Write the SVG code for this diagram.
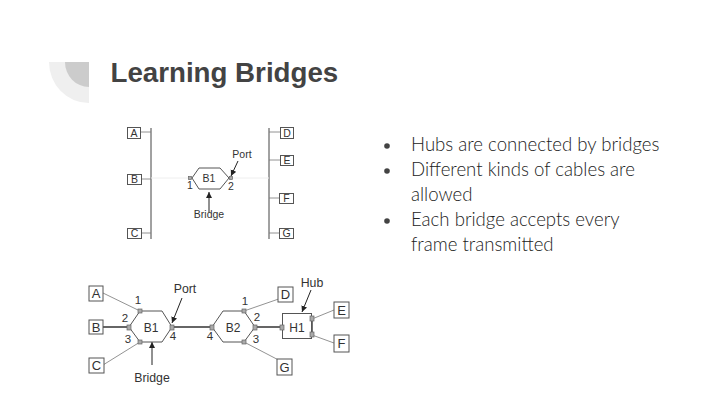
<svg xmlns="http://www.w3.org/2000/svg" width="720" height="405" viewBox="0 0 720 405">
<style>
.box{fill:#fff;stroke:#555;stroke-width:1}
.l{font-family:"Liberation Sans",Arial,sans-serif;font-size:10.500px;fill:#333;text-anchor:middle}
.m{font-family:"Liberation Sans",Arial,sans-serif;font-size:13px;fill:#333;text-anchor:middle}
.n{font-family:"Liberation Sans",Arial,sans-serif;font-size:11.500px;fill:#333;text-anchor:middle}
.c{font-family:"Liberation Sans",Arial,sans-serif;font-size:12.300px;fill:#333;text-anchor:middle}
.h{font-family:"Liberation Sans",Arial,sans-serif;font-size:12px;fill:#333;text-anchor:middle}
.b{font-family:"Lato","Noto Sans",sans-serif;font-size:18.600px;font-weight:300;fill:#222}
.w{fill:none;stroke:#444;stroke-width:1}
.t{fill:none;stroke:#777;stroke-width:.8}
.k{fill:none;stroke:#666;stroke-width:2}
.hex{fill:#fff;stroke:#555;stroke-width:1}
.p{fill:#aaa;stroke:#666;stroke-width:.7}
.a{fill:none;stroke:#222;stroke-width:1;marker-end:url(#ah)}
</style>
<defs><marker id="ah" markerWidth="7" markerHeight="7" refX="6" refY="3" orient="auto" markerUnits="userSpaceOnUse"><path d="M0,0L6,3L0,6z" fill="#222"/></marker></defs>
<rect width="720" height="405" fill="#fff"/>
<g id="decor">
<path d="M49,62H89V103A40,41 0 0 1 49,62z" fill="#efefef"/>
<path d="M65,62H89V87A24,25 0 0 1 65,62z" fill="#ccc"/>
</g>
<text id="title" x="110.500" y="82" font-family="Liberation Sans,Arial,sans-serif" font-weight="700" font-size="27.700" fill="#434343">Learning Bridges</text>
<g id="bullets">
<circle cx="387" cy="146" r="2.800" fill="#434343"/><circle cx="387" cy="171" r="2.800" fill="#434343"/><circle cx="387" cy="221" r="2.800" fill="#434343"/>
<text class="b" x="411" y="151">Hubs are connected by bridges</text>
<text class="b" x="411" y="176">Different kinds of cables are</text>
<text class="b" x="411" y="201">allowed</text>
<text class="b" x="411" y="226">Each bridge accepts every</text>
<text class="b" x="411" y="251">frame transmitted</text>
</g>
<g id="connectors">
<path class="w" d="M151,128V239M269,128V239"/>
<path class="t" d="M141,132H151M141,179H151M141,233H151M269,132H280M269,160H280M269,198H280M269,233H280"/>
<path d="M151,178H190M232,178H269" stroke="#eee" stroke-width="1" fill="none"/>
<path class="a" d="M238,161L231,176"/>
<path class="a" d="M209,212V192"/>
<path class="t" d="M103,293L140,311M103,365L140,342M293,294L244,311M292,367L244,342M312,319L334,310M312,335L334,343"/>
<path class="k" d="M103,327H129M172,327H212M255,327H282"/>
<path d="M312,319V335" stroke="#444" stroke-width="1.500" fill="none"/>
<path class="a" d="M182,298L172,323"/>
<path class="a" d="M152,365V342"/>
<path class="a" d="M311,290L302,312"/>
</g>
<g id="A"><rect class="box" x="127.500" y="127.500" width="13" height="11"/><text class="l" x="134" y="136.500">A</text></g>
<g id="B"><rect class="box" x="127.500" y="174.500" width="14" height="10"/><text class="l" x="134.500" y="183">B</text></g>
<g id="C"><rect class="box" x="127.500" y="228.500" width="14" height="10"/><text class="l" x="134.500" y="237">C</text></g>
<g id="D"><rect class="box" x="280.500" y="127.500" width="13" height="11"/><text class="l" x="287" y="136.500">D</text></g>
<g id="E"><rect class="box" x="280.500" y="155.500" width="13" height="10"/><text class="l" x="287" y="164">E</text></g>
<g id="F"><rect class="box" x="279.500" y="193.500" width="14" height="10"/><text class="l" x="286.500" y="202">F</text></g>
<g id="G"><rect class="box" x="279.500" y="228.500" width="14" height="10"/><text class="l" x="286.500" y="237">G</text></g>
<g id="B1top"><path class="hex" d="M192,178L199,168H220L229,178L220,189H199z"/><text class="l" x="209" y="182">B1</text>
<rect class="p" x="188.500" y="176.500" width="3" height="3"/><rect class="p" x="229.500" y="176.500" width="3" height="3"/>
<text class="l" x="190" y="189">1</text><text class="l" x="231" y="190">2</text></g>
<text class="l" x="242" y="158">Port</text>
<text class="l" x="209" y="218">Bridge</text>
<g id="A2"><rect class="box" x="89" y="286" width="14" height="15"/><text class="m" x="96" y="298">A</text></g>
<g id="B2n"><rect class="box" x="89" y="320" width="14" height="14"/><text class="m" x="96" y="332">B</text></g>
<g id="C2"><rect class="box" x="89" y="358" width="15" height="15"/><text class="m" x="96.500" y="370">C</text></g>
<g id="D2"><rect class="box" x="278" y="287" width="15" height="15"/><text class="m" x="285.500" y="299">D</text></g>
<g id="E2"><rect class="box" x="334" y="302" width="15" height="16"/><text class="m" x="341.500" y="315">E</text></g>
<g id="F2"><rect class="box" x="334" y="335" width="15" height="17"/><text class="m" x="341.500" y="348">F</text></g>
<g id="G2"><rect class="box" x="277" y="359" width="15" height="16"/><text class="m" x="284.500" y="372">G</text></g>
<g id="B1"><path class="hex" d="M129,327L140,311H162L172,327L162,342H140z"/><text class="h" x="151" y="331.500">B1</text>
<rect class="p" x="127" y="325" width="4" height="5"/><rect class="p" x="138" y="309" width="4" height="4"/><rect class="p" x="138" y="340" width="4" height="4"/><rect class="p" x="170" y="325" width="4" height="5"/>
<text class="n" x="138" y="304">1</text><text class="n" x="125" y="322">2</text><text class="n" x="128" y="343">3</text><text class="n" x="173" y="340">4</text></g>
<g id="B2"><path class="hex" d="M212,327L223,311H244L255,327L244,342H223z"/><text class="h" x="233" y="331.500">B2</text>
<rect class="p" x="210" y="325" width="4" height="5"/><rect class="p" x="242" y="309" width="4" height="4"/><rect class="p" x="242" y="340" width="4" height="4"/><rect class="p" x="253" y="325" width="4" height="5"/>
<text class="n" x="245" y="305">1</text><text class="n" x="257" y="321">2</text><text class="n" x="256" y="343">3</text><text class="n" x="210" y="340">4</text></g>
<g id="H1"><rect class="box" x="282.500" y="313.500" width="29" height="25"/><text class="h" x="297" y="331.500">H1</text>
<rect class="p" x="280" y="325" width="4" height="5"/><rect class="p" x="310" y="316" width="4" height="5"/><rect class="p" x="310" y="332" width="4" height="5"/></g>
<text class="c" x="185" y="293">Port</text>
<text class="c" x="152" y="382">Bridge</text>
<text class="c" x="312" y="287">Hub</text>
</svg>
